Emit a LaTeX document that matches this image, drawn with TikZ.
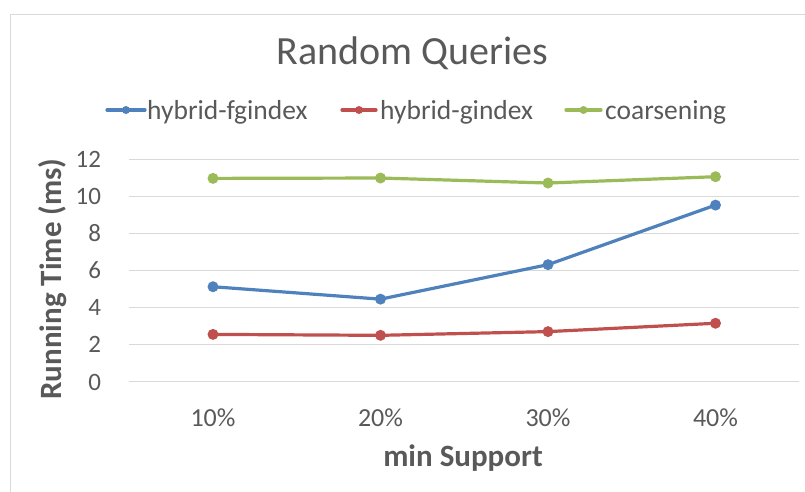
\documentclass[tikz,border=0pt]{standalone}
\usepackage{fontspec}
\setmainfont{Carlito}
\usetikzlibrary{positioning}

\definecolor{fgblue}{HTML}{4F81BD}
\definecolor{gred}{HTML}{C0504D}
\definecolor{cgreen}{HTML}{9BBB59}
\definecolor{txtgray}{HTML}{595959}
\definecolor{gridgray}{HTML}{D9D9D9}

\tikzset{
  series/.style={line width=3.2pt, line cap=round, line join=round},
  dot/.style={circle, fill, inner sep=0pt, minimum size=11pt},
  keydot/.style={circle, fill, inner sep=0pt, minimum size=8pt},
  ticklabel/.style={font=\fontsize{25}{25}\selectfont, text=txtgray, inner sep=0pt},
  keylabel/.style={font=\fontsize{27.5}{27.5}\selectfont, text=txtgray, inner sep=0pt},
  axistitle/.style={font=\fontsize{31}{31}\selectfont\bfseries, text=txtgray, inner sep=0pt},
  gridline/.style={draw=gridgray, line width=1.2pt}
}

\begin{document}
\begin{tikzpicture}[x=1pt, y=-1pt]

\useasboundingbox (0,0) rectangle (805,492);
\draw[gridgray, line width=1.5pt] (10.5,492) -- (10.5,14.5) -- (805,14.5);

% title and axis titles
\node[font=\fontsize{40}{40}\selectfont, text=txtgray, inner sep=0pt, anchor=base] (title) at (412.5,65) {Random Queries};
\node[axistitle, anchor=base] (xtitle) at (463,466) {min Support};
\node[axistitle, anchor=base, rotate=90] (ytitle) at (61.7,279) {Running Time (ms)};

% legend
\coordinate (k1a) at (107,110); \coordinate (k1b) at (145,110);
\coordinate (k2a) at (342,110); \coordinate (k2b) at (376,110);
\coordinate (k3a) at (566,110); \coordinate (k3b) at (601,110);
\draw[series, fgblue] (k1a) -- (k1b) node[keydot, midway] (k1) {};
\draw[series, gred] (k2a) -- (k2b) node[keydot, midway] (k2) {};
\draw[series, cgreen] (k3a) -- (k3b) node[keydot, midway] (k3) {};
\node[keylabel, anchor=base west] (l1) at (147,120) {hybrid-fgindex};
\node[keylabel, anchor=base west] (l2) at (380,120) {hybrid-gindex};
\node[keylabel, anchor=base west] (l3) at (605,120) {coarsening};

% plot area: categories 1..4, values in ms
\begin{scope}[shift={(45.5pt,-381.7pt)}, x=167.5pt, y=18.55pt]
  \foreach \v in {0,2,...,12} {
    \draw[gridline] (0.5,\v) -- (4.5,\v);
    \node[ticklabel, anchor=base east] (y\v) at (0.5,\v) [xshift=-28pt, yshift=-8.3pt] {\v};
  }
  \foreach \c/\lab in {1/10\%,2/20\%,3/30\%,4/40\%}
    \node[ticklabel, font=\fontsize{26}{26}\selectfont, anchor=base] (x\c) at (\c,0) [yshift=-44.3pt] {\lab};

  % hybrid-fgindex
  \coordinate (b1) at (1,5.12); \coordinate (b2) at (2,4.45);
  \coordinate (b3) at (3,6.31); \coordinate (b4) at (4,9.52);
  % hybrid-gindex
  \coordinate (r1) at (1,2.55); \coordinate (r2) at (2,2.5);
  \coordinate (r3) at (3,2.7); \coordinate (r4) at (4,3.15);
  % coarsening
  \coordinate (g1) at (1,10.96); \coordinate (g2) at (2,10.98);
  \coordinate (g3) at (3,10.71); \coordinate (g4) at (4,11.05);

  \draw[series, fgblue] (b1) -- (b2) -- (b3) -- (b4);
  \draw[series, gred] (r1) -- (r2) -- (r3) -- (r4);
  \draw[series, cgreen] (g1) -- (g2) -- (g3) -- (g4);
  \foreach \i in {1,...,4} {
    \node[dot, fgblue] at (b\i) {};
    \node[dot, gred] at (r\i) {};
    \node[dot, cgreen] at (g\i) {};
  }
\end{scope}

\end{tikzpicture}
\end{document}
